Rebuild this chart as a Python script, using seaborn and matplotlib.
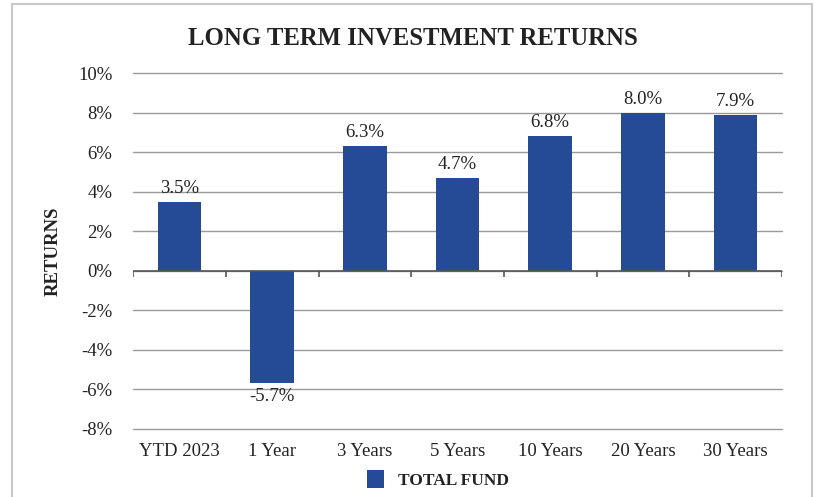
import matplotlib
matplotlib.use("Agg")
import matplotlib.pyplot as plt
import pandas as pd
import seaborn as sns
from matplotlib.patches import Rectangle

periods = ["YTD 2023", "1 Year", "3 Years", "5 Years", "10 Years", "20 Years", "30 Years"]
returns = [3.5, -5.7, 6.3, 4.7, 6.8, 8.0, 7.9]
series = ["TOTAL FUND"] * len(periods)
yticks = [-8, -6, -4, -2, 0, 2, 4, 6, 8, 10]

BLUE = "#254A96"
TXT = "#222222"

sns.set_theme(style="white")
plt.rcParams["font.family"] = ["Liberation Serif", "DejaVu Serif"]

df = pd.DataFrame({"period": periods, "ret": returns, "series": series})

fig = plt.figure(figsize=(8.17, 4.97), dpi=100)
ax = fig.add_axes([0.163, 0.137, 0.794, 0.716])

sns.barplot(data=df, x="period", y="ret", hue="series", palette=[BLUE],
            width=0.47, saturation=1, linewidth=0, ax=ax, zorder=3)

ax.set_ylim(-8, 10)
ax.set_xlim(-0.5, len(periods) - 0.5)
ax.set_yticks(yticks)
ax.set_yticklabels([f"{t}%" for t in yticks], fontsize=13.5, color=TXT)
ax.tick_params(axis="x", labelsize=13.5, colors=TXT, length=0, pad=10)
ax.tick_params(axis="y", length=0, pad=15)
ax.yaxis.grid(True, color="#9a9a9a", linewidth=1)
for gl in ax.get_ygridlines():
    gl.set_clip_on(False)
ax.set_axisbelow(True)
for s in ax.spines.values():
    s.set_visible(False)

# zero line with category boundary ticks
ax.axhline(0, color="#555555", linewidth=1.2, zorder=4)
ax.vlines([i - 0.5 for i in range(len(periods) + 1)], -0.3, 0, color="#555555",
          linewidth=1.2, zorder=4)

for i, v in enumerate(returns):
    off = 0.25 if v >= 0 else -0.25
    ax.text(i, v + off, f"{v:.1f}%", ha="center", va="bottom" if v >= 0 else "top",
            fontsize=13.5, color=TXT)

ax.set_xlabel("")
ax.set_ylabel("RETURNS", fontsize=13.5, fontweight="bold", color=TXT, labelpad=12)

fig.text(0.505, 0.922, "LONG TERM INVESTMENT RETURNS", ha="center", va="center",
         fontsize=17.8, fontweight="bold", color=TXT)

ax.legend(loc="upper center", bbox_to_anchor=(0.47, -0.072), frameon=False,
          prop={"size": 12.5, "weight": "bold"}, handlelength=1.0, handleheight=1.2,
          handletextpad=0.8, labelcolor=TXT)

fig.add_artist(Rectangle((12 / 817, -0.01), 800 / 817, 1 - 4 / 497 + 0.01,
                         transform=fig.transFigure, fill=False,
                         edgecolor="#c8c8c8", linewidth=1.5))

fig.savefig("out.png", dpi=100)
